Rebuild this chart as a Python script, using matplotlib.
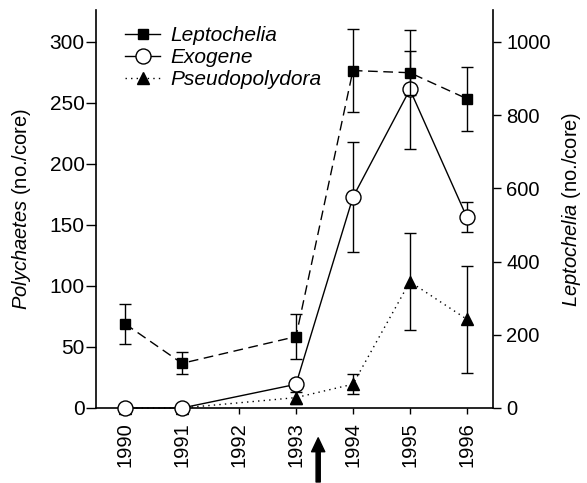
import matplotlib
matplotlib.use("Agg")
import matplotlib.pyplot as plt
from matplotlib.lines import Line2D

plt.rcParams["font.family"] = ["Liberation Sans", "DejaVu Sans"]
plt.rcParams["mathtext.fontset"] = "custom"
plt.rcParams["mathtext.it"] = "Liberation Sans:italic"
plt.rcParams["mathtext.rm"] = "Liberation Sans"

years = [1990, 1991, 1993, 1994, 1995, 1996]
year_ticks = [1990, 1991, 1992, 1993, 1994, 1995, 1996]

# Leptochelia, right axis (no./core)
lepto = [230, 122, 195, 922, 916, 845]
lepto_err = [55, 30, 61, 113, 60, 87]

# Exogene and Pseudopolydora, left axis (no./core)
exo = [0, 0, 19.4, 172.7, 261, 156.3]
exo_err = [0, 0, 0, 45, 48.5, 12.3]
pseudo = [0, 0, 8.5, 19.5, 103.5, 72.7]
pseudo_err = [0, 0, 5, 8, 40, 44]

fig = plt.figure(figsize=(5.87, 4.83), dpi=100)
ax = fig.add_axes([0.1635, 0.1553, 0.6765, 0.8237])
ax2 = ax.twinx()

ax2.errorbar(years, lepto, yerr=lepto_err, color="black", lw=1.0,
             dashes=(7, 4), marker="s", ms=7, mfc="black", mec="black",
             capsize=4, capthick=1.0, elinewidth=1.0, clip_on=False, zorder=3)

ax.errorbar(years, pseudo, yerr=pseudo_err, color="black", lw=1.0,
            ls=(0, (1, 3)), marker="^", ms=8, mfc="black", mec="black",
            capsize=4, capthick=1.0, elinewidth=1.0, clip_on=False, zorder=3)
ax.errorbar(years, exo, yerr=exo_err, color="black", lw=1.0,
            marker="o", ms=10.8, mfc="white", mec="black", mew=1.0,
            capsize=4, capthick=1.0, elinewidth=1.0, clip_on=False, zorder=4)

ax.set_xlim(1989.49, 1996.46)
ax.set_ylim(0, 326)
ax2.set_ylim(0, 1087)

ax.set_xticks(year_ticks)
ax.set_xticklabels([str(y) for y in year_ticks], rotation=90, fontsize=14.5)
ax.set_yticks([0, 50, 100, 150, 200, 250, 300])
ax2.set_yticks([0, 200, 400, 600, 800, 1000])

ax.tick_params(axis="x", direction="out", length=4.5, width=1.0, pad=6)
ax.tick_params(axis="y", direction="out", length=7, width=1.0, pad=1, labelsize=15)
ax2.tick_params(axis="y", direction="out", length=6, width=1.0, pad=3.5, labelsize=14.5)

for a in (ax, ax2):
    a.spines["top"].set_visible(False)
    for s in a.spines.values():
        s.set_linewidth(1.2)
ax2.spines["left"].set_visible(False)
ax2.spines["bottom"].set_visible(False)
ax.spines["right"].set_visible(False)

ax.set_ylabel(r"$\mathit{Polychaetes}$ (no./core)", fontsize=14.5, labelpad=12)
ax2.set_ylabel(r"$\mathit{Leptochelia}$ (no./core)", fontsize=14.5,
               rotation=90, labelpad=7)

handles = [
    Line2D([], [], color="black", lw=1.0, marker="s", ms=7),
    Line2D([], [], color="black", lw=1.0, marker="o", ms=10.8, mfc="white"),
    Line2D([], [], color="black", lw=1.0, ls=(0, (1, 3)), marker="^", ms=8),
]
labels = ["Leptochelia", "Exogene", "Pseudopolydora"]
leg = ax.legend(handles, labels, loc="upper left", bbox_to_anchor=(0.073, 0.96),
                frameon=False, borderpad=0, borderaxespad=0, handlelength=1.7,
                handletextpad=0.5, labelspacing=0.15,
                prop={"style": "italic", "size": 15})

# arrow under the axis between 1993 and 1994
ax.annotate("", xy=(1993.39, -0.075), xytext=(1993.39, -0.186),
            xycoords=ax.get_xaxis_transform(), textcoords=ax.get_xaxis_transform(),
            arrowprops=dict(facecolor="black", edgecolor="black", width=3,
                            headwidth=9.5, headlength=10),
            annotation_clip=False)

fig.savefig("out.png", dpi=100)
